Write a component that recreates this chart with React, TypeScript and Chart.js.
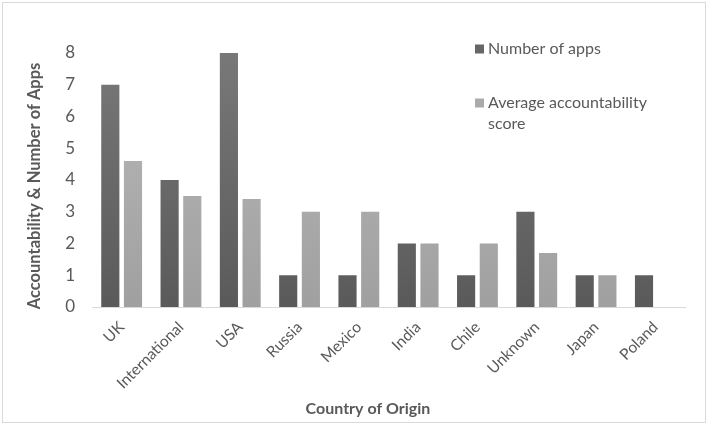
import React, { useEffect, useRef } from "react";
import { Chart, registerables } from "chart.js";

Chart.register(...registerables);

const categories = ["UK", "International", "USA", "Russia", "Mexico", "India", "Chile", "Unknown", "Japan", "Poland"];
const numberOfApps = [7, 4, 8, 1, 1, 2, 1, 3, 1, 1];
const avgAccountability = [4.6, 3.5, 3.4, 3, 3, 2, 2, 1.7, 1, null];
const yTicks = [0, 1, 2, 3, 4, 5, 6, 7, 8];
const seriesNames = ["Number of apps", "Average accountability score"];
const xTitle = "Country of Origin";
const yTitle = "Accountability & Number of Apps";

const FONT = "Lato, 'Open Sans', sans-serif";
const TEXT = "#595959";

function gradient(chart: any, top: string, bottom: string) {
  const area = chart.chartArea;
  if (!area) return top;
  const g = chart.ctx.createLinearGradient(0, area.top, 0, area.bottom);
  g.addColorStop(0, top);
  g.addColorStop(1, bottom);
  return g;
}

const customPlugin = {
  id: "customLegendTitle",
  afterDraw(chart: any) {
    const ctx = chart.ctx;
    ctx.save();
    // x-axis title
    ctx.font = `bold 16px ${FONT}`;
    ctx.fillStyle = TEXT;
    ctx.textAlign = "center";
    ctx.textBaseline = "middle";
    ctx.fillText(xTitle, 368, 409);

    // y-axis title
    ctx.save();
    ctx.translate(35, 186);
    ctx.rotate(-Math.PI / 2);
    ctx.font = `bold 16.5px ${FONT}`;
    ctx.fillText(yTitle, 0, 0);
    ctx.restore();

    // legend
    ctx.font = `16px ${FONT}`;
    ctx.textAlign = "left";
    const colors = ["#666666", "#ababab"];
    const startY = [49, 103];
    chart.data.datasets.forEach((ds: any, i: number) => {
      const y = startY[i];
      ctx.fillStyle = colors[i];
      ctx.fillRect(475, y - 4.5, 9, 9);
      ctx.fillStyle = TEXT;
      const words = String(ds.label).split(" ");
      const lines: string[] = [];
      let cur = "";
      words.forEach((w) => {
        const test = cur ? cur + " " + w : w;
        if (ctx.measureText(test).width > 180 && cur) {
          lines.push(cur);
          cur = w;
        } else cur = test;
      });
      if (cur) lines.push(cur);
      lines.forEach((ln, k) => ctx.fillText(ln, 488, y + k * 21));
    });
    ctx.restore();
  },
};

export default function App() {
  const ref = useRef<HTMLCanvasElement>(null);
  useEffect(() => {
    document.body.style.margin = "0";
    const chart = new Chart(ref.current!, {
      type: "bar",
      data: {
        labels: categories,
        datasets: [
          {
            label: seriesNames[0],
            data: numberOfApps,
            backgroundColor: (c: any) => gradient(c.chart, "#787878", "#5a5a5a"),
            categoryPercentage: 0.765,
            barPercentage: 0.8,
          },
          {
            label: seriesNames[1],
            data: avgAccountability as any,
            backgroundColor: (c: any) => gradient(c.chart, "#b9b9b9", "#a0a0a0"),
            categoryPercentage: 0.765,
            barPercentage: 0.8,
          },
        ],
      },
      options: {
        animation: false,
        responsive: true,
        maintainAspectRatio: false,
        layout: { padding: { top: 53, right: 24, left: 0, bottom: 0 } },
        plugins: { legend: { display: false }, tooltip: { enabled: false } },
        scales: {
          x: {
            grid: { display: false, drawTicks: false },
            border: { display: true, color: "#d9d9d9", width: 1 },
            ticks: {
              maxRotation: 45,
              minRotation: 45,
              color: TEXT,
              font: { family: FONT, size: 15.5 },
              padding: 11,
            },
            afterFit: (s: any) => {
              s.height = 427 - 307;
            },
          },
          y: {
            min: 0,
            max: 8,
            afterBuildTicks: (s: any) => {
              s.ticks = yTicks.map((v) => ({ value: v }));
            },
            grid: { display: false, drawTicks: false },
            border: { display: false },
            ticks: { color: TEXT, font: { family: FONT, size: 17 }, padding: 17 },
            afterFit: (s: any) => {
              s.width = 92;
            },
          },
        },
      },
      plugins: [customPlugin],
    });
    return () => chart.destroy();
  }, []);
  return (
    <div style={{ position: "fixed", left: 0, top: 0, width: 709, height: 427, background: "#fff" }}>
      <div
        style={{
          position: "absolute",
          left: 2,
          top: 2,
          width: 702,
          height: 419,
          border: "1px solid #d9d9d9",
          boxSizing: "content-box",
        }}
      />
      <div style={{ position: "absolute", left: 0, top: 0, width: 709, height: 427 }}>
        <canvas ref={ref} />
      </div>
    </div>
  );
}
